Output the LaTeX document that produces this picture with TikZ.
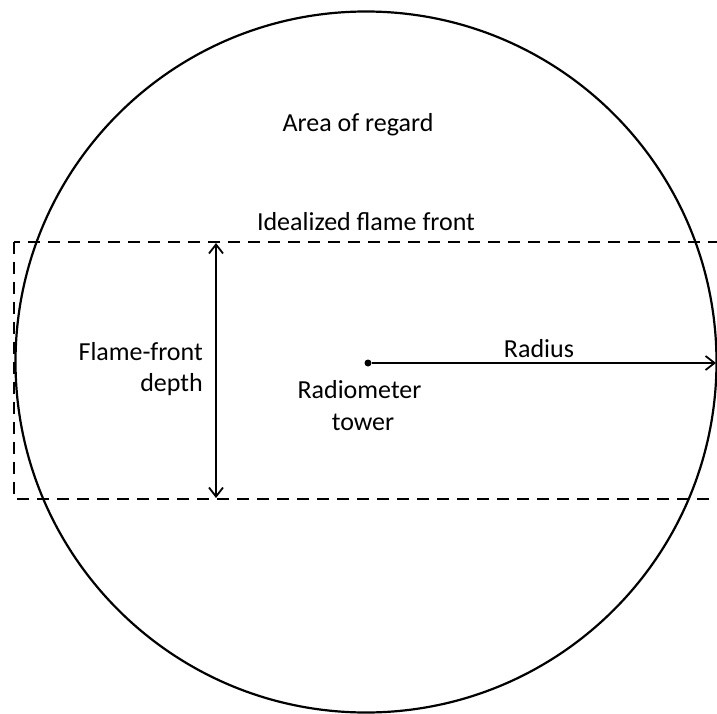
\documentclass[tikz,border=0pt]{standalone}
\usepackage{fontspec}
\setmainfont{Carlito}
\usetikzlibrary{arrows.meta}
\begin{document}
\begin{tikzpicture}[x=1pt,y=-1pt,
  lbl/.style={inner sep=0pt,anchor=base,font=\fontsize{26}{31}\selectfont},
  outline/.style={line width=2.2pt,black},
  dashbox/.style={line width=2.3pt,dash pattern=on 12pt off 8pt},
  dimarrow/.style={line width=2pt,{Straight Barb[length=9pt,width=14pt,line width=1.8pt]}-{Straight Barb[length=9pt,width=14pt,line width=1.8pt]}},
  radarrow/.style={line width=2pt,-{Straight Barb[length=9pt,width=14pt,line width=1.8pt]}}]
\useasboundingbox (0,0) rectangle (717,714);
\clip (0,0) rectangle (717,714);
% area of regard
\node[outline,draw,circle,minimum size=701pt,inner sep=0pt] (area) at (366,362) {};
% flame front box
\draw[dashbox] (14,242) rectangle (760,499);
\coordinate (ftop) at (216,243);
\coordinate (fbot) at (216,498);
\draw[dimarrow] (ftop) -- (fbot);
% tower and radius
\node[circle,fill,inner sep=0pt,minimum size=7pt] (tower) at (368,363) {};
\coordinate (redge) at (716,363);
\draw[radarrow] (tower) -- (redge);
% labels
\node[lbl] (tArea) at (358,132) {Area of regard};
\node[lbl] (tFront) at (366,230) {Idealized flame front};
\node[lbl,anchor=base east] (tDepth1) at (203,360) {Flame-front};
\node[lbl,anchor=base east] (tDepth2) at (203,391) {depth};
\node[lbl] (tRad) at (539,357) {Radius};
\node[lbl] (tTower1) at (359.5,398) {Radiometer};
\node[lbl] (tTower2) at (363,430) {tower};
\end{tikzpicture}
\end{document}
